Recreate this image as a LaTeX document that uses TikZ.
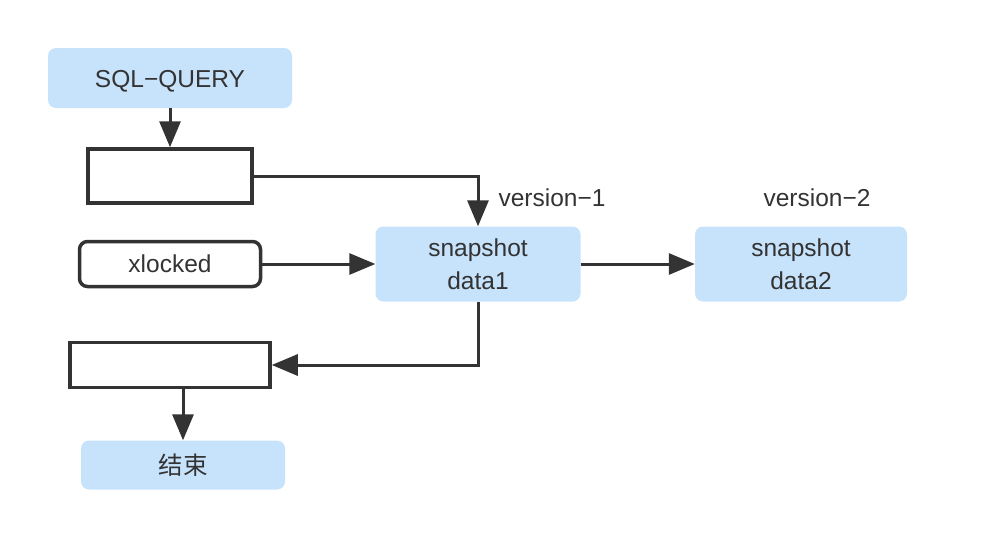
\documentclass[tikz,border=0pt]{standalone}
\usepackage{fontspec}
\setmainfont{Liberation Sans}
\newfontfamily\cjk{Noto Sans CJK SC}
\usetikzlibrary{arrows.meta}
\definecolor{boxblue}{RGB}{199,226,251}
\definecolor{ink}{RGB}{51,51,51}
\tikzset{
  bluebox/.style={fill=boxblue, draw=none, rounded corners=8pt, text=ink, align=center, font=\fontsize{24.5}{33}\selectfont, inner sep=0pt},
  plainbox/.style={draw=ink, line width=3.5pt, fill=white, inner sep=0pt},
  conn/.style={draw=ink, line width=3pt, -{Triangle[length=26pt,width=21pt]}},
  lbl/.style={text=ink, font=\fontsize{24.5}{33}\selectfont, inner sep=0pt}
}
\begin{document}
\begin{tikzpicture}[x=1pt,y=-1pt]
\useasboundingbox (0,0) rectangle (987,538);
\node[bluebox, minimum width=244pt, minimum height=60pt, text height=18pt, text depth=0pt] (sql) at (170,78) {SQL−QUERY};
\node[plainbox, rounded corners=8pt, minimum width=181pt, minimum height=45pt, text=ink, font=\fontsize{24.5}{33}\selectfont, text height=17pt, text depth=0pt] (xl) at (170,264) {xlocked};
\node[plainbox, minimum width=164pt, minimum height=54pt] (b1) at (170,176) {};
\node[bluebox, minimum width=205pt, minimum height=75pt] (s1) at (478,264) {snapshot\\data1};
\node[bluebox, minimum width=212pt, minimum height=75pt] (s2) at (801,264) {snapshot\\data2};
\node[plainbox, minimum width=200pt, minimum height=45pt] (b2) at (170,365) {};
\node[bluebox, minimum width=204pt, minimum height=49pt] (end) at (183,465) {{\cjk 结束}};
\node[lbl] (v1) at (552,198) {version−1};
\node[lbl] (v2) at (817,198) {version−2};
\draw[conn] (sql) -- (b1);
\draw[conn] (b1.east) -| (s1.north);
\draw[conn] (xl) -- (s1);
\draw[conn] (s1) -- (s2);
\draw[conn] (s1.south) |- (b2.east);
\draw[conn] (b2.south -| end.north) -- (end.north);
\end{tikzpicture}
\end{document}
